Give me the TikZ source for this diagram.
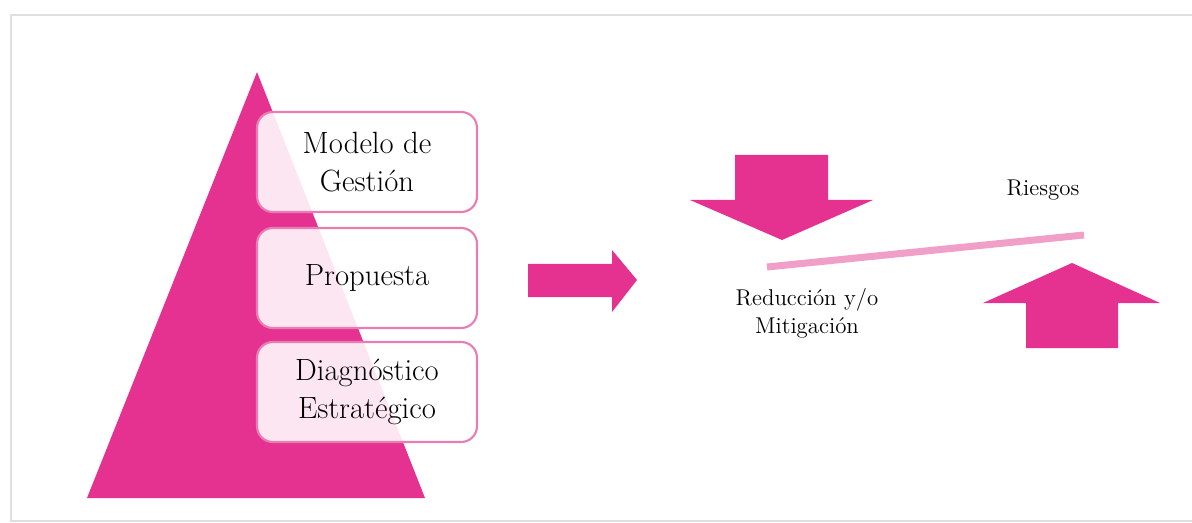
\documentclass[tikz,border=0pt]{standalone}
\usepackage{tikz}
\usetikzlibrary{calc,positioning}
\definecolor{rosa}{RGB}{229,50,145}
\definecolor{rosaclaro}{RGB}{240,160,200}
\definecolor{rosaborde}{RGB}{232,125,180}
\tikzset{
  caja/.style={draw=rosaborde, line width=1.2pt, fill=white, fill opacity=0.88,
    text opacity=1, rounded corners=9pt, minimum width=220*0.02cm,
    minimum height=100*0.02cm, align=center, font=\fontsize{17.5}{22}\selectfont},
  rotulo/.style={align=center, font=\fontsize{13}{16}\selectfont}
}
\begin{document}
\begin{tikzpicture}[x=0.02cm,y=-0.02cm]
                \useasboundingbox (0,0) rectangle (1192,523);
                %Frame
                \draw[gray!25, line width=1.5pt] (1210,15) -- (11,15) -- (11,521) -- (1210,521);
                %Pyramid
                \coordinate (p1) at (87,498);
                \coordinate (p2) at (425,498);
                \coordinate (p3) at (257,72);
                \fill[rosa] (p1) -- (p2) -- (p3) -- cycle;
                %Boxes
                \node[caja] (modelo) at (367,162) {Modelo de\\Gestión};
                \node[caja] (propuesta) at (367,278) {Propuesta};
                \node[caja] (diagnostico) at (367,392) {Diagnóstico\\Estratégico};
                %Arrow right
                \fill[rosa] (528,264) -- (612,264) -- (612,250) -- (637,280)
                  -- (612,312) -- (612,297) -- (528,297) -- cycle;
                %Arrow down
                \fill[rosa] (735,155) -- (828,155) -- (828,200) -- (873,200)
                  -- (782,240) -- (690,200) -- (735,200) -- cycle;
                %Arrow up
                \fill[rosa] (1026,348) -- (1118,348) -- (1118,303) -- (1160,303)
                  -- (1072,263) -- (983,303) -- (1026,303) -- cycle;
                %Balance line
                \coordinate (b1) at (767,267);
                \coordinate (b2) at (1084,235);
                \draw[rosaclaro, line width=4pt] (b1) -- (b2);
                %Labels
                \node[rotulo] (riesgos) at (1043,190) {Riesgos};
                \node[rotulo] (reduccion) at (807,313) {Reducción y/o\\Mitigación};
            \end{tikzpicture}
\end{document}
